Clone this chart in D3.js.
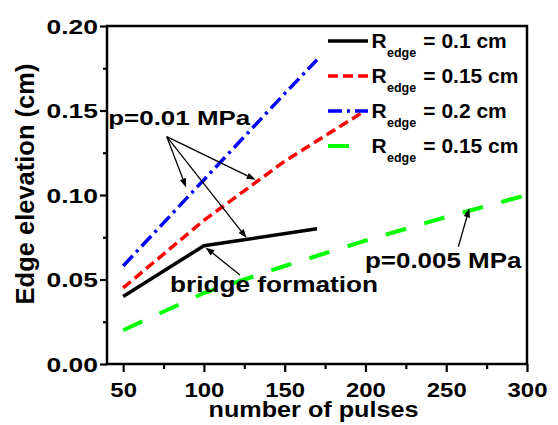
<!DOCTYPE html>
<html><head><meta charset="utf-8">
<script src="https://cdn.jsdelivr.net/npm/d3@7"></script>
<style>
body{margin:0;background:#fff;}
text{font-family:"Liberation Sans",Arial,sans-serif;font-weight:bold;fill:#000;}
</style></head>
<body><svg id="c" width="558" height="425"></svg>
<script>
// ---- data ----
const blackX = [50, 100, 170];
const blackY = [0.04, 0.07, 0.08];
const redX = [50, 100, 150, 200];
const redY = [0.045, 0.085, 0.12, 0.15];
const blueX = [50, 100, 150, 170];
const blueY = [0.058, 0.109, 0.16, 0.18];
const greenX = [50, 100, 150, 200, 250, 300];
const greenY = [0.02, 0.042, 0.058, 0.073, 0.087, 0.1];
const legendRadii = ["0.1", "0.15", "0.2", "0.15"];
const xTicks = [50, 100, 150, 200, 250, 300];
const xMinor = [75, 125, 175, 225, 275];
const yTicks = [0, 0.05, 0.1, 0.15, 0.2];
const yMinor = [0.025, 0.075, 0.125, 0.175];
// annotations (data coordinates)
const pLabel1 = {text: "p=0.01 MPa", x: 40.8, y: 0.1414};
const pArrows1 = {from: [77, 0.1345], to: [[89, 0.1045], [132, 0.109], [126.5, 0.0745]]};
const bridgeLabel = {text: "bridge formation", x: 79, y: 0.0428};
const bridgeArrow = {from: [122.3, 0.0527], to: [101, 0.069]};
const pLabel2 = {text: "p=0.005 MPa", x: 199.7, y: 0.0566};
const pArrow2 = {from: [257.5, 0.0694], to: [264.3, 0.0921]};

const svg = d3.select("#c");
const L = 107, R = 527, T = 26, B = 364;
const x = d3.scaleLinear().domain([40, 300]).range([L, R]);
const y = d3.scaleLinear().domain([0, 0.2]).range([B, T]);

// series
const series = [
  {xs: blackX, ys: blackY, color: "#000000", dash: null, w: 3.5},
  {xs: redX, ys: redY, color: "#ff0000", dash: "10,5", w: 3.5},
  {xs: blueX, ys: blueY, color: "#0000ff", dash: "14,5,3,5", w: 3.5},
  {xs: greenX, ys: greenY, color: "#00ff00", dash: "21,19", w: 4}
];
const line = d3.line().x(d => x(d[0])).y(d => y(d[1]));
series.forEach(s => {
  const pts = s.xs.map((v, i) => [v, s.ys[i]]);
  svg.append("path").attr("d", line(pts)).attr("fill", "none")
    .attr("stroke", s.color).attr("stroke-width", s.w)
    .attr("stroke-dasharray", s.dash).attr("stroke-linejoin", "miter");
});

// axes
const gx = svg.append("g").attr("transform", `translate(0,${B})`)
  .call(d3.axisBottom(x).tickValues(xTicks).tickSize(8).tickSizeOuter(0).tickFormat(d3.format("d")));
const gxm = svg.append("g").attr("transform", `translate(0,${B})`)
  .call(d3.axisBottom(x).tickValues(xMinor).tickSize(5).tickSizeOuter(0).tickFormat(""));
const gy = svg.append("g").attr("transform", `translate(${L},0)`)
  .call(d3.axisLeft(y).tickValues(yTicks).tickSize(7).tickSizeOuter(0).tickFormat(d3.format(".2f")));
const gym = svg.append("g").attr("transform", `translate(${L},0)`)
  .call(d3.axisLeft(y).tickValues(yMinor).tickSize(4).tickSizeOuter(0).tickFormat(""));
[gx, gxm, gy, gym].forEach(g => {
  g.select(".domain").remove();
  g.selectAll(".tick line").attr("stroke", "#000").attr("stroke-width", 2.2);
});
gx.selectAll(".tick text").attr("y", 18).attr("dy", "0.71em")
  .style("font-size", "21px").attr("transform", "scale(1.14,1)");
const ysx = 1.26;
gy.selectAll(".tick text").attr("x", -9 / ysx).attr("dy", "0.35em")
  .style("font-size", "21px").attr("transform", `scale(${ysx},1)`);

// frame
svg.append("rect").attr("x", L).attr("y", T).attr("width", R - L).attr("height", B - T)
  .attr("fill", "none").attr("stroke", "#000").attr("stroke-width", 2.5);

// axis titles
svg.append("g").attr("transform", `translate(313.5,416.7) scale(1.12,1)`)
  .append("text").attr("text-anchor", "middle").style("font-size", "22.5px").text("number of pulses");
svg.append("text").attr("transform", `translate(33.5,184) rotate(-90)`)
  .attr("text-anchor", "middle").style("font-size", "25.5px").text("Edge elevation (cm)");

// legend
const legY0 = 41, legStep = 35;
series.forEach((s, i) => {
  const ly = legY0 + i * legStep;
  svg.append("line").attr("x1", 328).attr("x2", 368).attr("y1", ly).attr("y2", ly)
    .attr("stroke", s.color).attr("stroke-width", s.w).attr("stroke-dasharray", s.dash);
  svg.append("text").attr("x", 371.5).attr("y", ly + 7.3).style("font-size", "21px").text("R");
  svg.append("text").attr("x", 387).attr("y", ly + 15.7).style("font-size", "12.5px").text("edge");
  svg.append("text").attr("x", 423.3).attr("y", ly + 7.3).style("font-size", "21px").text("= " + legendRadii[i] + " cm");
});

// annotations
function scaledText(t, size, sx) {
  svg.append("g").attr("transform", `translate(${x(t.x)},${y(t.y)}) scale(${sx},1)`)
    .append("text").style("font-size", size + "px").text(t.text);
}
scaledText(pLabel1, 21, 1.235);
scaledText(bridgeLabel, 22, 1.19);
scaledText(pLabel2, 22, 1.18);

function arrow(from, to) {
  const x1 = x(from[0]), y1 = y(from[1]), x2 = x(to[0]), y2 = y(to[1]);
  const a = Math.atan2(y2 - y1, x2 - x1);
  const len = 9, hw = 3.2;
  const bx = x2 - len * Math.cos(a), by = y2 - len * Math.sin(a);
  svg.append("line").attr("x1", x1).attr("y1", y1).attr("x2", bx).attr("y2", by)
    .attr("stroke", "#000").attr("stroke-width", 1.3);
  const p = [[x2, y2],
    [bx + hw * Math.sin(a), by - hw * Math.cos(a)],
    [bx - hw * Math.sin(a), by + hw * Math.cos(a)]];
  svg.append("path").attr("d", "M" + p.map(q => q.join(",")).join("L") + "Z").attr("fill", "#000");
}
pArrows1.to.forEach(t => arrow(pArrows1.from, t));
arrow(bridgeArrow.from, bridgeArrow.to);
arrow(pArrow2.from, pArrow2.to);
</script></body></html>
